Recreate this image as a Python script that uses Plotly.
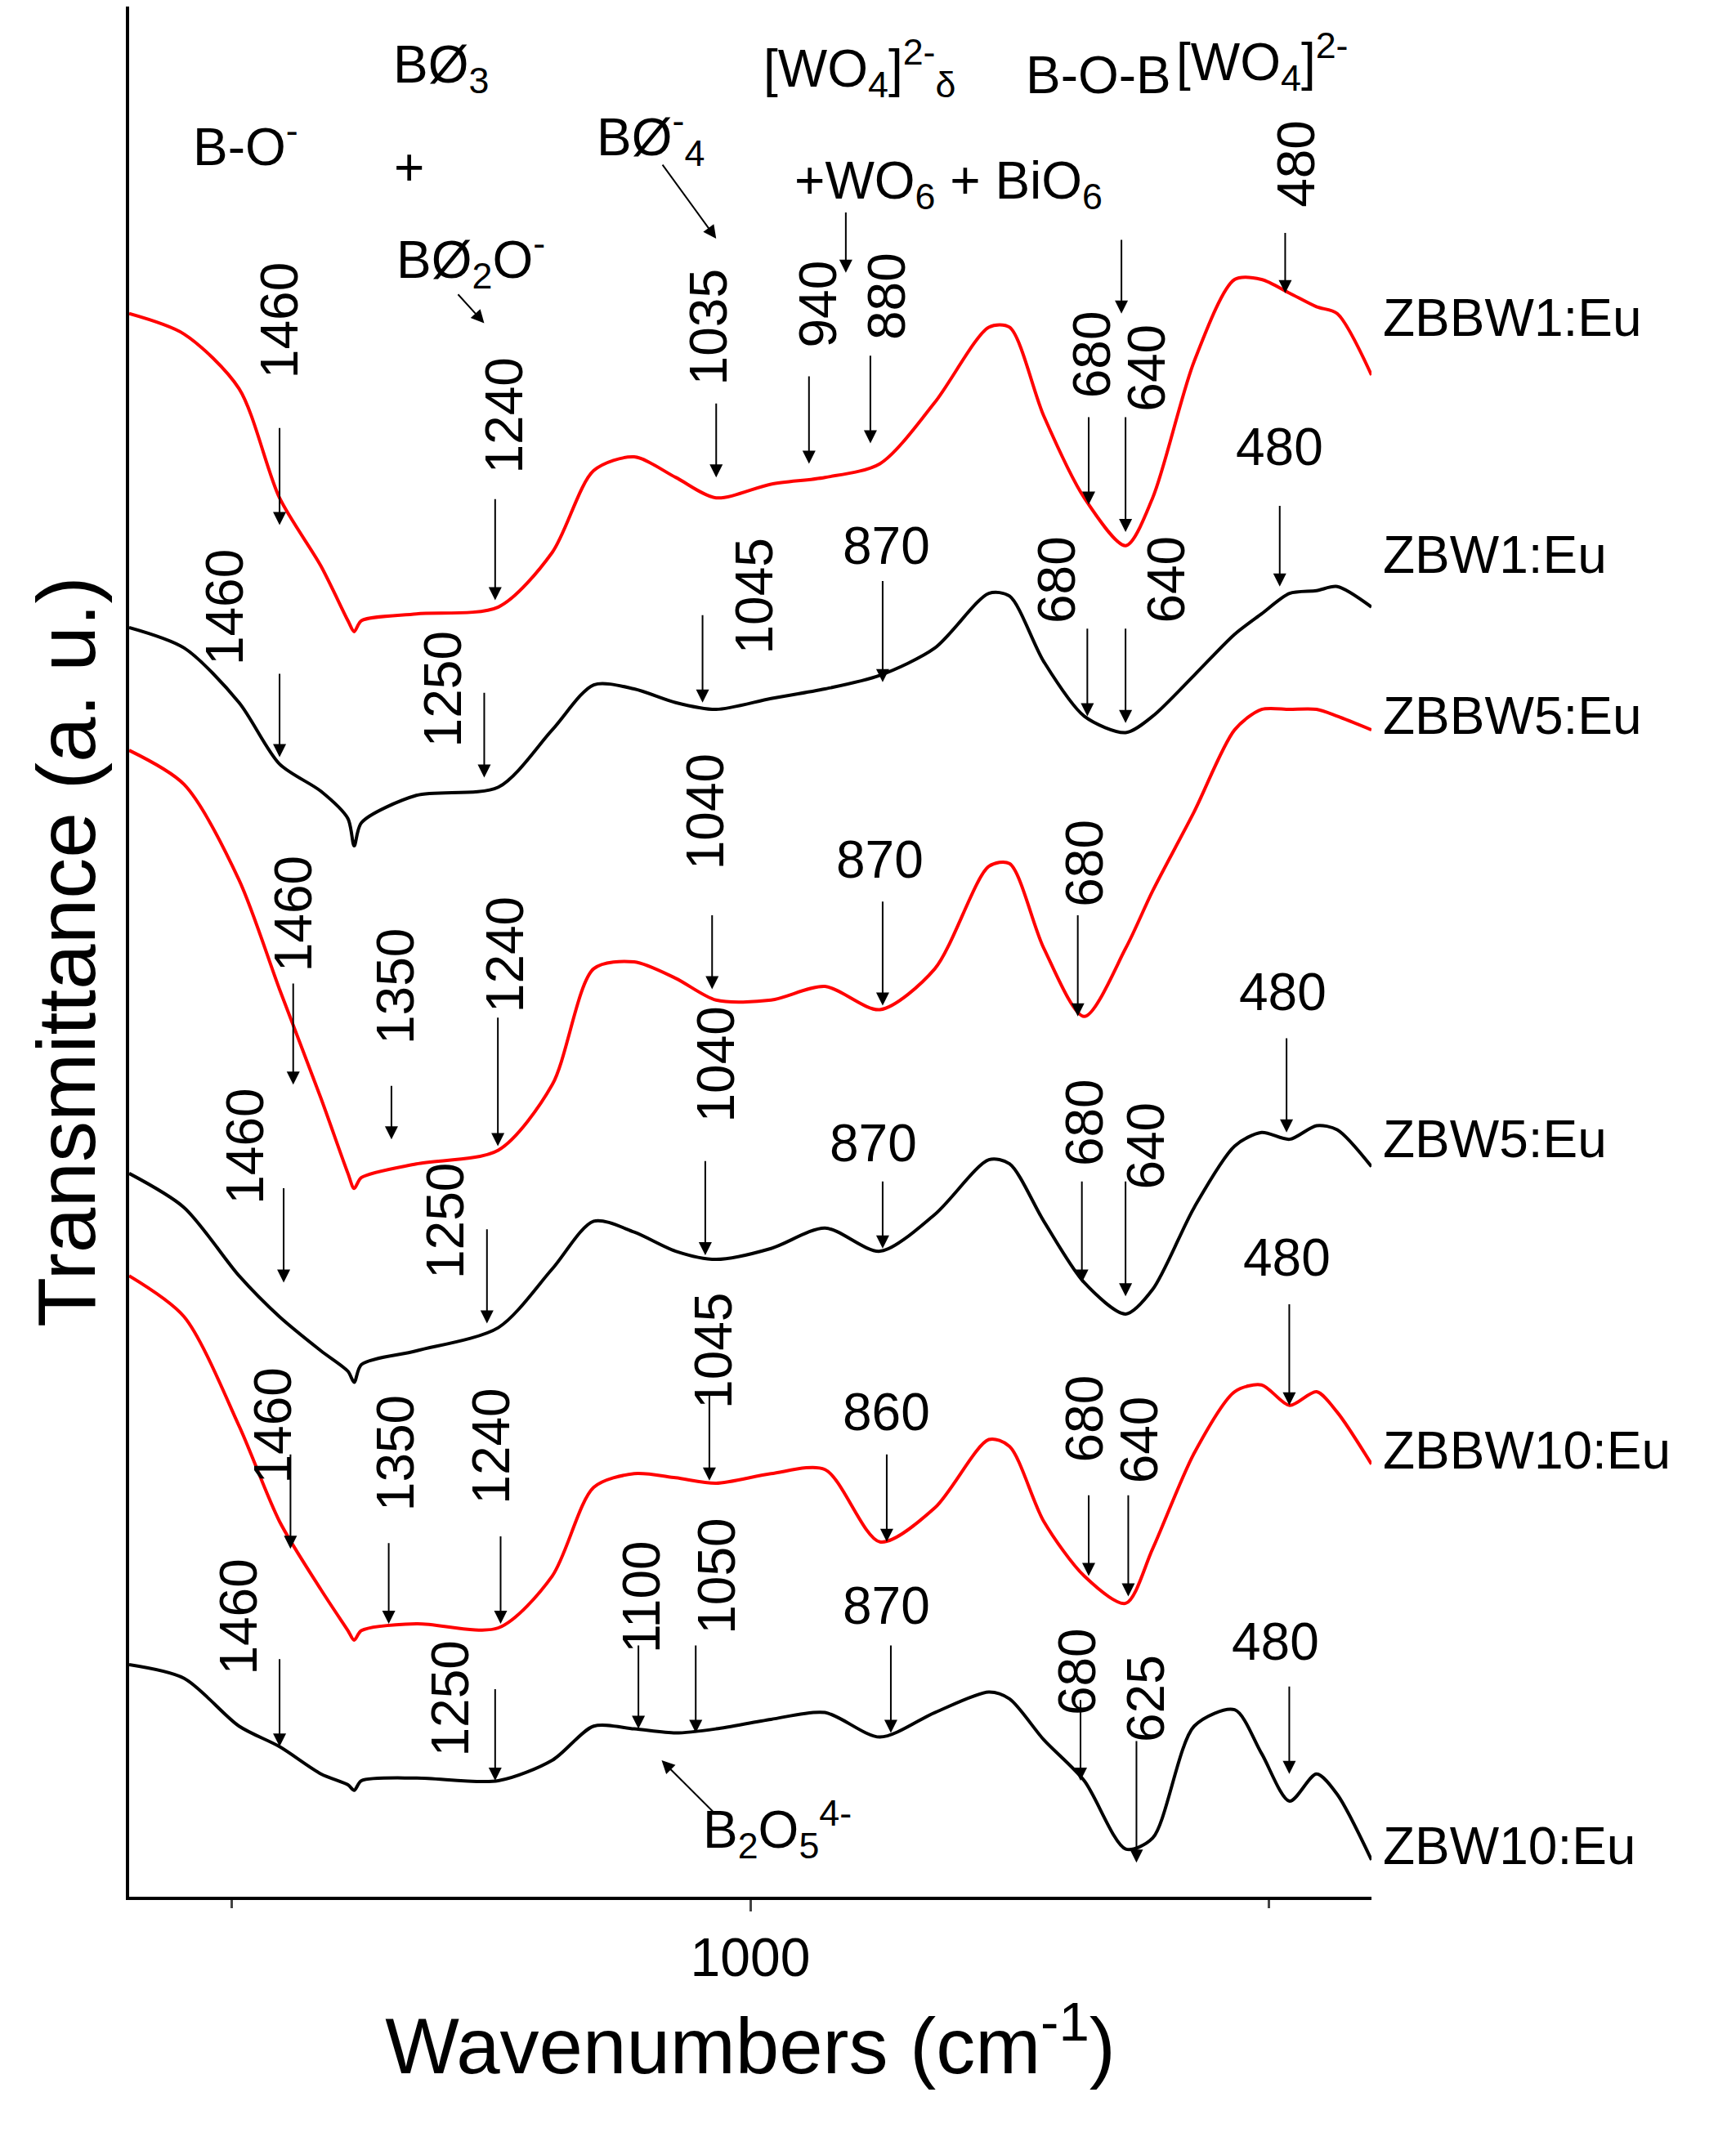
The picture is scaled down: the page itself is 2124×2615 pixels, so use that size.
import plotly.graph_objects as go

W = [1599,1546,1493,1454,1414,1388,1382,1375,1322,1243,1191,1151,1112,1072,1033,980,928,875,822,770,750,717,678,638,612,572,533,507,480,454,434,401]
ZBBW1 = [225,240,280,360,410,450,458,450,445,440,400,340,330,345,360,350,345,335,290,235,235,300,360,395,360,260,200,200,210,220,225,270]
ZBW1 = [455,470,510,555,575,595,615,598,578,572,530,497,500,510,515,507,500,490,470,430,432,480,520,532,520,490,460,445,430,428,425,440]
ZBBW5 = [545,570,640,720,800,855,866,858,848,838,790,705,700,712,728,728,718,735,705,630,628,690,740,690,648,590,530,515,515,515,520,530]
ZBW5 = [855,880,930,960,985,1000,1008,995,985,968,925,890,898,912,918,910,895,912,885,845,848,890,935,958,940,880,835,825,830,820,823,850]
ZBBW10 = [930,960,1040,1110,1160,1190,1197,1190,1185,1188,1150,1085,1075,1078,1082,1075,1072,1125,1100,1050,1055,1110,1150,1170,1130,1060,1015,1010,1025,1015,1030,1068]
ZBW10 = [1215,1225,1260,1275,1295,1303,1307,1300,1298,1300,1285,1260,1262,1265,1262,1255,1250,1268,1250,1235,1240,1270,1300,1350,1342,1260,1248,1280,1315,1295,1310,1358]
series = [("ZBBW1:Eu",ZBBW1,"#ff0000",228),("ZBW1:Eu",ZBW1,"black",402),("ZBBW5:Eu",ZBBW5,"#ff0000",520),
          ("ZBW5:Eu",ZBW5,"black",830),("ZBBW10:Eu",ZBBW10,"#ff0000",1058),("ZBW10:Eu",ZBW10,"black",1348)]

def X(px): return 1000-(px-545)/0.76

fig = go.Figure()
for name, ys, c, ly in series:
    fig.add_trace(go.Scatter(x=W, y=[-v for v in ys], mode="lines", line=dict(color=c, width=4, shape="spline", smoothing=0.8), name=name, showlegend=False))

F = "Arial, Liberation Sans"
FS = 64
ann = []
marks = [
 ("1460",200,230,1,200,308,380),("1240",365,300,1,358,360,435),("1035",515,235,1,520,290,345),
 ("940",595,218,1,588,270,335),("880",645,212,1,633,255,320),("680",795,255,1,793,300,365),("640",835,265,1,820,300,385),
 ("480",945,115,1,937,165,210),
 ("480",933,323,0,933,365,425),("1460",160,440,1,200,488,550),("1250",320,500,1,350,502,565),
 ("1045",548,432,1,510,445,510),("870",645,395,0,642,420,495),("680",770,420,1,792,455,520),("640",850,420,1,820,455,525),
 ("1460",210,665,1,210,715,790),("1350",285,718,1,282,790,830),("1240",365,695,1,360,740,835),
 ("1040",512,590,1,517,665,720),("870",640,625,0,642,655,732),("680",790,628,1,785,665,740),
 ("480",935,722,0,938,755,825),("1460",175,835,1,203,865,935),("1250",322,890,1,352,895,965),
 ("1040",520,775,1,512,845,915),("870",635,833,0,642,860,910),("680",790,818,1,788,860,935),("640",835,835,1,820,860,945),
 ("480",938,917,0,940,950,1025),("1460",195,1040,1,208,1060,1130),("1350",285,1060,1,280,1125,1185),
 ("1240",355,1055,1,362,1120,1185),("1045",518,985,1,515,1015,1080),("860",645,1030,0,645,1060,1125),
 ("680",790,1035,1,793,1090,1150),("640",830,1050,1,822,1090,1165),
 ("1460",170,1180,1,200,1210,1275),("1250",325,1240,1,358,1232,1300),("1100",465,1165,1,463,1200,1262),
 ("1050",520,1150,1,505,1200,1265),("870",645,1172,0,648,1200,1265),("680",785,1220,1,787,1240,1300),
 ("625",835,1240,1,828,1270,1360),("480",930,1198,0,940,1230,1295),
]
for lab, tx, ty, rot, axp, y0, y1 in marks:
    ann.append(dict(x=X(tx), y=-ty, text=lab, showarrow=False, textangle=-90 if rot else 0,
                    font=dict(size=FS, family=F, color="black")))
    ann.append(dict(x=X(axp), y=-y1, ax=X(axp), ay=-y0, axref="x", ayref="y", xref="x", yref="y", text="",
                    showarrow=True, arrowhead=2, arrowsize=1.6, arrowwidth=2, arrowcolor="black"))
extra_arrows = [(615,150,615,195),(817,170,817,225),(480,115,520,170),(330,210,350,232),(520,1325,480,1285)]
for x0,y0,x1,y1 in extra_arrows:
    ann.append(dict(x=X(x1), y=-y1, ax=X(x0), ay=-y0, axref="x", ayref="y", text="", showarrow=True,
                    arrowhead=2, arrowsize=1.6, arrowwidth=2, arrowcolor="black"))
headers = [("B-O<sup>-</sup>",175,100),("BØ<sub>3</sub>",318,45),("+",295,118),("BØ<sub>2</sub>O<sup>-</sup>",340,185),
           ("BØ<sup>-</sup><sub>4</sub>",472,95),("[WO<sub>4</sub>]<sup>2-</sup><sub>δ</sub>",625,45),("B-O-B",800,50),
           ("[WO<sub>4</sub>]<sup>2-</sup>",920,40),("+WO<sub>6</sub> + BiO<sub>6</sub>",690,130),
           ("B<sub>2</sub>O<sub>5</sub><sup>4-</sup>",565,1335)]
for t, tx, ty in headers:
    ann.append(dict(x=X(tx), y=-ty, text=t, showarrow=False, font=dict(size=FS, family=F, color="black")))
for name, ys, c, ly in series:
    ann.append(dict(x=(1000-90)/910+0.008, xref="paper", y=-ly, text=name, xanchor="left", showarrow=False,
                    font=dict(size=FS, family=F, color="black")))

fig.update_layout(width=2124, height=2615, plot_bgcolor="white", paper_bgcolor="white",
    margin=dict(l=150, r=454, t=0, b=302), annotations=ann, font=dict(family=F, color="black"))
fig.update_xaxes(range=[1599, 401], tickvals=[1000], ticktext=["1000"], ticks="outside", ticklen=14, tickwidth=3,
    minor=dict(tickvals=[1500,500], ticks="outside", ticklen=10, tickwidth=3), showgrid=False, zeroline=False,
    showline=True, linewidth=4, linecolor="black", tickfont=dict(size=66),
    title=dict(text="Wavenumbers (cm<sup>-1</sup>)", font=dict(size=96), standoff=40))
fig.update_yaxes(range=[-1385, 0], showticklabels=False, ticks="", showgrid=False, zeroline=False,
    showline=True, linewidth=4, linecolor="black", title=dict(text="Transmittance (a. u.)", font=dict(size=100), standoff=5))
fig.write_html("out.html")
